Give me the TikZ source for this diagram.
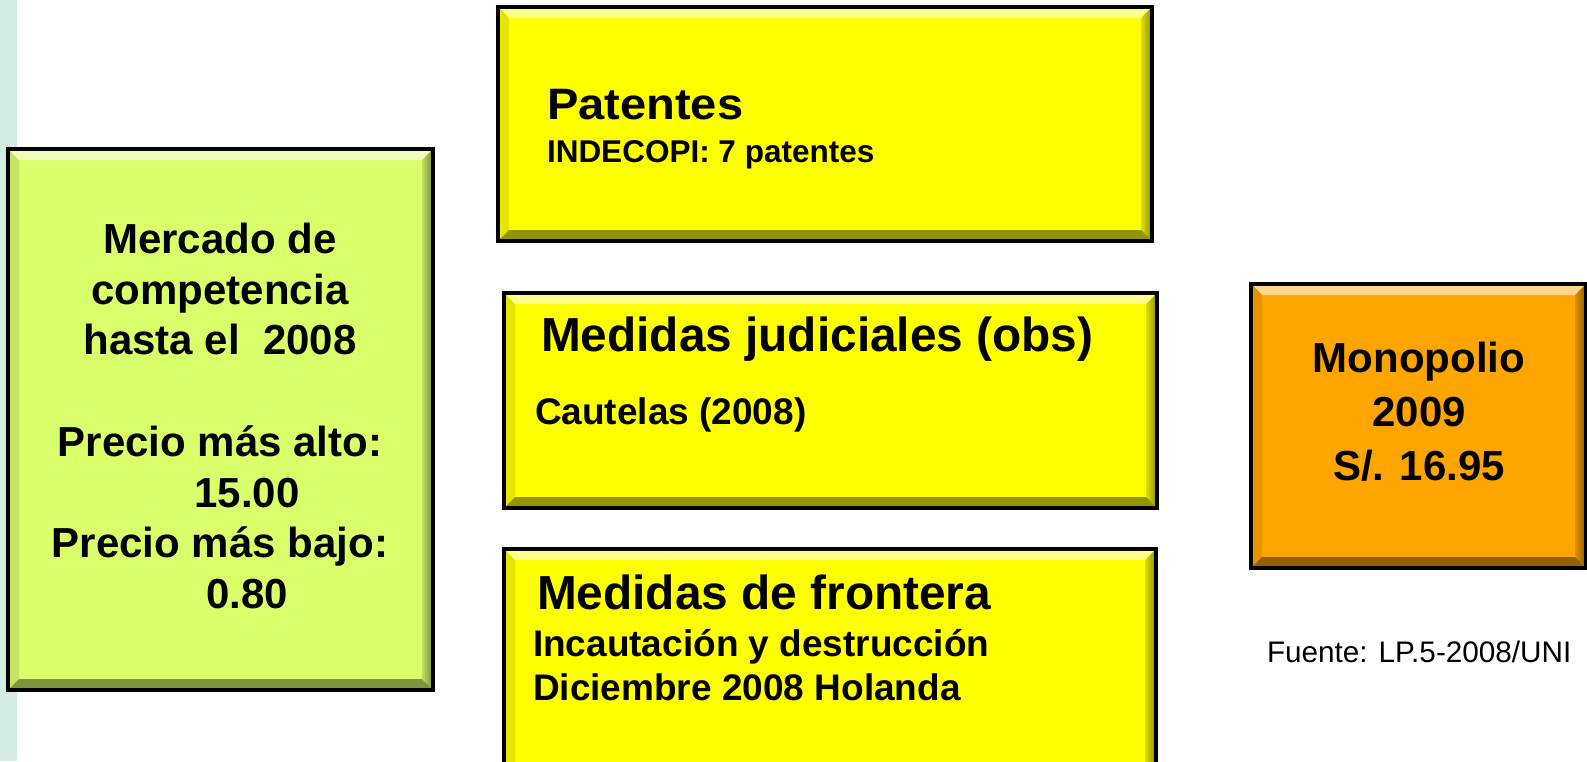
\documentclass[tikz,border=0pt]{standalone}
\usepackage{graphicx}
\usepackage{fontspec}
\setmainfont{Liberation Sans}
\definecolor{strip}{RGB}{210,235,227}
\definecolor{gbox}{RGB}{217,255,107}
\definecolor{ybox}{RGB}{255,255,0}
\definecolor{obox}{RGB}{255,165,0}
\newcommand\bevbox[5]{%
  \fill[#5] (#1,#2) rectangle (#3,#4);
  \fill[#5!45!white] (#1,#2) -- (#3,#2) -- (#3-11,#2+11) -- (#1+11,#2+11) -- cycle;
  \fill[#5!90!black] (#1,#2) -- (#1+11,#2+11) -- (#1+11,#4-11) -- (#1,#4) -- cycle;
  \shade[left color=#5!88!black, right color=#5!55!black] (#3,#2) -- (#3,#4) -- (#3-11,#4-11) -- (#3-11,#2+11) -- cycle;
  \fill[#5!58!black] (#1,#4) -- (#3,#4) -- (#3-11,#4-11) -- (#1+11,#4-11) -- cycle;
  \draw[line width=3.2pt] (#1,#2) rectangle (#3,#4);
}
\tikzset{
  txt/.style={inner sep=0pt, outer sep=0pt, text=black},
  big/.style={txt, font=\bfseries\fontsize{47.8}{57}\selectfont},
  mid/.style={txt, font=\bfseries\fontsize{42}{50}\selectfont},
  sub/.style={txt, font=\bfseries\fontsize{37}{44}\selectfont},
}
\begin{document}
\begin{tikzpicture}[x=1pt,y=-1pt]
\clip (0,0) rectangle (1587,761);
\fill[white] (0,0) rectangle (1587,761);
\fill[strip] (0,0) rectangle (17,761);
% boxes
\bevbox{8}{149}{433}{690}{gbox}
\bevbox{498}{7}{1152}{241}{ybox}
\bevbox{504}{293}{1157}{508}{ybox}
\bevbox{504}{549}{1156}{790}{ybox}
\bevbox{1251}{284}{1586}{568}{obox}
% green box text
\node[mid, anchor=base] (g1) at (220,253) {Mercado de};
\node[mid, anchor=base] (g2) at (220,304) {competencia};
\node[mid, anchor=base] (g3) at (220,354) {hasta el\ \ 2008};
\node[mid, anchor=base] (g4) at (220,456) {Precio más alto:};
\node[mid, anchor=base] (g5) at (247,507) {15.00};
\node[mid, anchor=base] (g6) at (220,557) {Precio más bajo:};
\node[mid, anchor=base] (g7) at (247,608) {0.80};
% patentes
\node[big, anchor=base west] (p1) at (547,119) {\scalebox{1.07}[1]{\fontsize{44}{52}\selectfont Patentes}};
\node[txt, font=\bfseries\fontsize{31.5}{38}\selectfont, anchor=base west] (p2) at (547,162) {INDECOPI: 7 patentes};
% judiciales
\node[big, anchor=base west] (j1) at (541,351) {Medidas judiciales (obs)};
\node[sub, anchor=base west] (j2) at (535,424) {Cautelas (2008)};
% frontera
\node[big, anchor=base west] (f1) at (537,609) {Medidas de frontera};
\node[sub, anchor=base west] (f2) at (533,656) {Incautación y destrucción};
\node[sub, anchor=base west] (f3) at (533,700) {Diciembre 2008 Holanda};
% monopolio
\node[mid, anchor=base] (m1) at (1419,372) {Monopolio};
\node[mid, anchor=base] (m2) at (1419,426) {2009};
\node[mid, anchor=base] (m3) at (1419,480) {S/. 16.95};
% source
\node[txt, font=\fontsize{29.7}{35}\selectfont, anchor=base west] (src) at (1267,662) {Fuente: LP.5-2008/UNI};
\end{tikzpicture}
\end{document}
